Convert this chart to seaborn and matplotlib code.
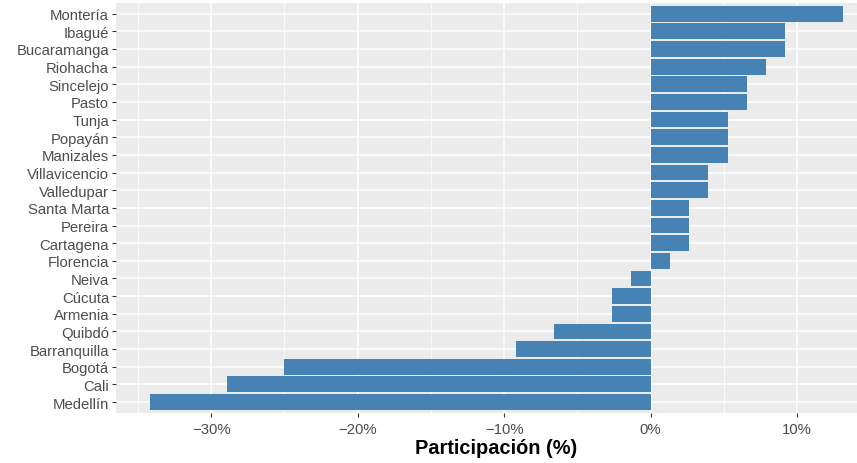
import numpy as np
import pandas as pd
import seaborn as sns
import matplotlib.pyplot as plt
from matplotlib.ticker import PercentFormatter, MultipleLocator

# cities ordered from top to bottom, participation in %
ciudades = ['Montería', 'Ibagué', 'Bucaramanga', 'Riohacha', 'Sincelejo', 'Pasto',
            'Tunja', 'Popayán', 'Manizales', 'Villavicencio', 'Valledupar',
            'Santa Marta', 'Pereira', 'Cartagena', 'Florencia', 'Neiva', 'Cúcuta',
            'Armenia', 'Quibdó', 'Barranquilla', 'Bogotá', 'Cali', 'Medellín']
participacion = [13.16, 9.21, 9.21, 7.89, 6.58, 6.58,
                 5.26, 5.26, 5.26, 3.95, 3.95,
                 2.63, 2.63, 2.63, 1.32, -1.32, -2.63,
                 -2.63, -6.58, -9.21, -25.0, -28.95, -34.21]

df = pd.DataFrame({'ciudad': ciudades, 'part': participacion})

sns.set_theme(style='darkgrid', rc={'axes.facecolor': '#EBEBEB', 'grid.color': 'white'})
plt.rcParams['font.family'] = ['Liberation Sans', 'DejaVu Sans']

fig = plt.figure(figsize=(8.57, 4.64), dpi=100)
ax = fig.add_axes([116/857, 50.3/464, 741/857, 409.7/464])

sns.barplot(data=df, x='part', y='ciudad', order=ciudades, color='#4682B4',
            saturation=1, width=0.9, orient='h', linewidth=0, ax=ax, zorder=2)

ax.set_xlim(-36.5, 14.1)
ax.set_ylim(len(ciudades) - 0.4, -0.6)
ax.xaxis.set_major_locator(MultipleLocator(10))
ax.xaxis.set_minor_locator(MultipleLocator(5))
ax.xaxis.set_major_formatter(PercentFormatter(xmax=100, decimals=0))
ax.grid(True, which='major', color='white', lw=1.1, zorder=0)
ax.grid(True, which='minor', axis='x', color='white', lw=0.55, zorder=0)
ax.set_axisbelow(True)
for s in ax.spines.values():
    s.set_visible(False)

ax.tick_params(axis='both', which='major', length=3, width=0.8, color='#333333',
               labelsize=10.7, labelcolor='#4D4D4D', pad=2, bottom=True, left=True)
ax.tick_params(axis='x', which='major', pad=4)
ax.tick_params(axis='x', which='minor', length=0)
ax.set_ylabel('')
ax.set_xlabel('Participación (%)', fontsize=14.4, fontweight='bold', color='black')
# the original panel ran past the right edge, so the title is centred a bit right
ax.xaxis.set_label_coords((496.5 - 116) / 741, -0.062)

fig.savefig('out.png', dpi=100)
